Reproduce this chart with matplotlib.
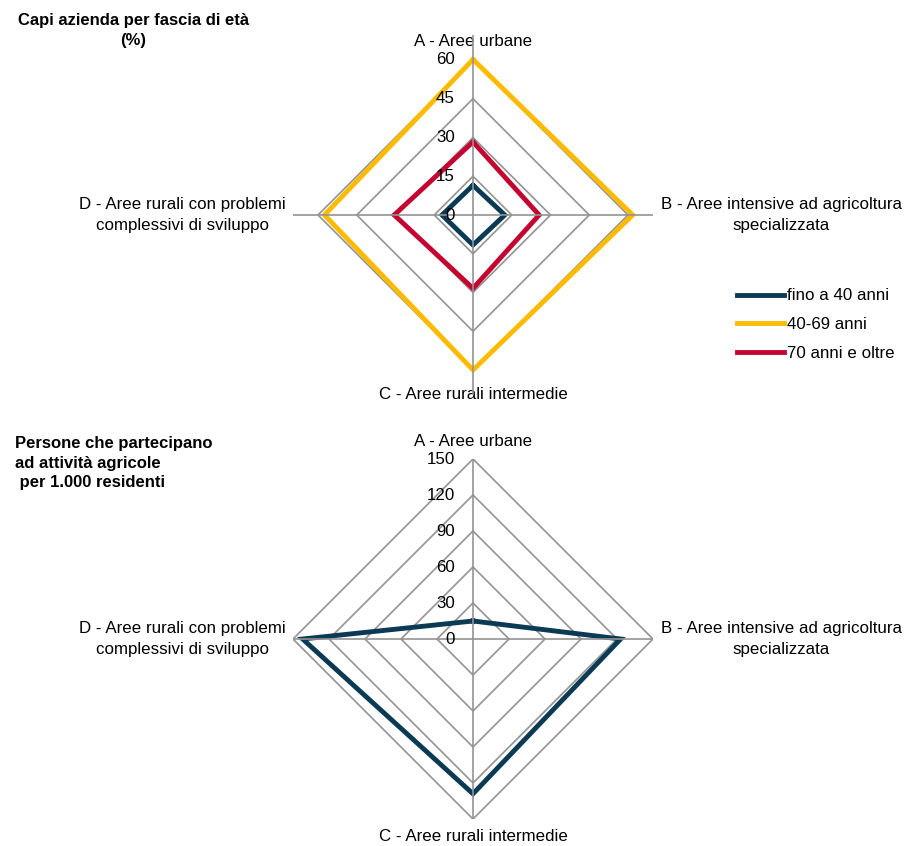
import numpy as np
import matplotlib
matplotlib.use("Agg")
import matplotlib.pyplot as plt

plt.rcParams['font.family'] = ['Liberation Sans', 'DejaVu Sans']

# aree (assi del radar), in senso orario a partire dall'alto
aree = ["A - Aree urbane",
        "B - Aree intensive ad agricoltura\nspecializzata",
        "C - Aree rurali intermedie",
        "D - Aree rurali con problemi\ncomplessivi di sviluppo"]

# capi azienda per fascia di eta' (%)
fino_40 = [11.5, 12.3, 11.6, 12.0]
da_40_69 = [60.2, 61.8, 60.0, 57.5]
oltre_70 = [28.3, 25.6, 28.4, 30.5]
fasce = ["fino a 40 anni", "40-69 anni", "70 anni e oltre"]

# persone che partecipano ad attivita' agricole per 1.000 residenti
persone = [15, 123, 129, 142]

tick_top = [0, 15, 30, 45, 60]
tick_bot = [0, 30, 60, 90, 120, 150]

BLU = "#0b3a55"
GIALLO = "#fdbb00"
ROSSO = "#c4052f"
GRIGIO = "#939393"
FS = 12.2

W, H = 906, 846
fig = plt.figure(figsize=(W / 100, H / 100), dpi=100)

theta = np.deg2rad([0, 90, 180, 270])


def radar_ax(cx, cy, rad_px):
    # asse polare centrato su (cx, cy) in pixel, raggio rad_px
    ax = fig.add_axes([(cx - rad_px) / W, (H - cy - rad_px) / H,
                       2 * rad_px / W, 2 * rad_px / H], projection='polar')
    ax.set_theta_zero_location('N')
    ax.set_theta_direction(-1)
    ax.grid(False)
    ax.spines['polar'].set_visible(False)
    ax.set_xticks([])
    ax.set_yticks([])
    ax.patch.set_alpha(0)
    return ax


def chiudi(vals):
    return np.append(theta, theta[0]), np.append(vals, vals[0])


def griglia(ax, ticks, r_asse):
    for t in ticks[1:]:
        th, r = chiudi([t] * 4)
        ax.plot(th, r, color=GRIGIO, lw=1.2, zorder=1)
    for th in theta:
        ax.plot([th, th], [0, r_asse], color=GRIGIO, lw=1.2, zorder=4)
    for t in ticks:
        ax.annotate(str(t), xy=(0, t), xytext=(-18, 0),
                    textcoords='offset pixels', ha='right', va='center',
                    fontsize=FS, zorder=5)


def etichette(ax, offs):
    allin = [('center', 'bottom'), ('left', 'center'),
             ('center', 'top'), ('right', 'center')]
    for nome, off, (ha, va) in zip(aree, offs, allin):
        ax.annotate(nome, xy=(0.5, 0.5), xycoords='axes fraction',
                    xytext=off, textcoords='offset pixels',
                    ha=ha, va=va, multialignment='center', fontsize=FS,
                    linespacing=1.5, zorder=0)


# grafico in alto
ax1 = radar_ax(473, 215, 180)
ax1.set_ylim(0, 60 * 180 / 155)
griglia(ax1, tick_top, 60 * 180 / 155)
for vals, col, lab in zip([fino_40, da_40_69, oltre_70],
                          [BLU, GIALLO, ROSSO], fasce):
    th, r = chiudi(vals)
    ax1.plot(th, r, color=col, lw=3.5, label=lab, zorder=3,
             solid_joinstyle='miter')
etichette(ax1, [(0, 166), (188, 0), (0, -172), (-187, 0)])

fig.legend(loc='upper left', bbox_to_anchor=(729 / W, 1 - 280 / H),
           frameon=False, fontsize=FS, handlelength=2.75,
           handletextpad=0.2, labelspacing=0.82, borderpad=0)

fig.text(133 / W, 1 - 13 / H, "Capi azienda per fascia di età\n(%)",
         ha='center', va='top', fontsize=12, fontweight='bold',
         linespacing=1.38)

# grafico in basso
ax2 = radar_ax(473, 639, 180)
ax2.set_ylim(0, 150)
griglia(ax2, tick_bot, 150)
th, r = chiudi(persone)
ax2.plot(th, r, color=BLU, lw=3.5, zorder=3, solid_joinstyle='miter')
etichette(ax2, [(0, 190), (188, 0), (0, -190), (-187, 0)])

fig.text(15 / W, 1 - 436 / H,
         "Persone che partecipano\nad attività agricole\n per 1.000 residenti",
         ha='left', va='top', fontsize=12, fontweight='bold',
         linespacing=1.38)

fig.savefig("out.png", dpi=100)
